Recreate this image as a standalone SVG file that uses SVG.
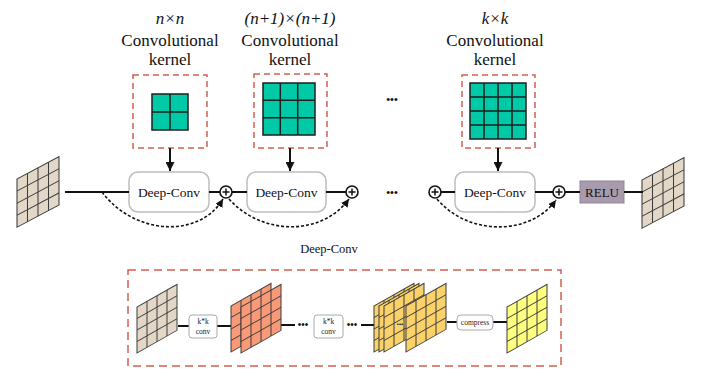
<svg xmlns="http://www.w3.org/2000/svg" width="716" height="388" viewBox="0 0 716 388">
<style>
.t{font-family:"Liberation Serif",serif;fill:#111;text-anchor:middle}
.h{font-size:17px}
.i{font-style:italic}
.kbox{fill:none;stroke:#d45d52;stroke-width:1.5;stroke-dasharray:6 4}
.teal{fill:#00c9a7;stroke:#1e1e1e;stroke-width:1.5}
.dc{fill:#fff;stroke:#bdbdbd;stroke-width:1.5}
.ln{stroke:#111;stroke-width:2;fill:none}
.dot{stroke:#111;stroke-width:1.6;fill:none;stroke-dasharray:3 2}
.plus{fill:#fff;stroke:#111;stroke-width:1.6}
.sb{fill:#fff;stroke:#aaa;stroke-width:1}
.s{font-family:"Liberation Serif",serif;font-size:7.5px;fill:#222;text-anchor:middle}
.d{font-family:"Liberation Sans",sans-serif;fill:#111;text-anchor:middle}
</style>
<defs>
<marker id="ah" viewBox="0 0 10 10" refX="10" refY="5" markerWidth="9" markerHeight="9" markerUnits="userSpaceOnUse" orient="auto">
<path d="M0,0 L10,5 L0,10 z" fill="#111"/>
</marker>
<marker id="ah2" viewBox="0 0 10 10" refX="10" refY="5" markerWidth="8" markerHeight="8" markerUnits="userSpaceOnUse" orient="auto">
<path d="M0,0 L10,5 L0,10 z" fill="#111"/>
</marker>
<g id="fm">
<rect x="0" y="0" width="40" height="46" stroke="#3c3c3c" stroke-width="1"/>
<path d="M10,0V46M20,0V46M30,0V46M0,11.5H40M0,23H40M0,34.5H40" stroke="#3c3c3c" stroke-width="1" fill="none"/>
</g>
<g id="plusc">
<circle cx="0" cy="0" r="6" class="plus"/>
<path d="M-3.5,0H3.5M0,-3.5V3.5" stroke="#111" stroke-width="1.5"/>
</g>
</defs>

<g id="labels">
<text class="t h i" x="170" y="24">n×n</text>
<text class="t h" x="170" y="46">Convolutional</text>
<text class="t h" x="170" y="65">kernel</text>
<text class="t h i" x="290" y="24">(n+1)×(n+1)</text>
<text class="t h" x="290" y="46">Convolutional</text>
<text class="t h" x="290" y="65">kernel</text>
<text class="t h i" x="495" y="24">k×k</text>
<text class="t h" x="495" y="46">Convolutional</text>
<text class="t h" x="495" y="65">kernel</text>
<text class="d" x="392" y="103" font-size="11">•••</text>
<text class="t" x="329" y="253" font-size="12.5">Deep-Conv</text>
</g>

<g id="kernel1">
<rect class="kbox" x="133" y="75" width="74" height="73"/>
<rect class="teal" x="152" y="94" width="36" height="36"/>
<path d="M170,94V130M152,112H188" stroke="#1e1e1e" stroke-width="1.5"/>
</g>
<g id="kernel2">
<rect class="kbox" x="254" y="74" width="73" height="74"/>
<rect class="teal" x="263" y="83" width="52" height="52"/>
<path d="M280.3,83V135M297.7,83V135M263,100.3H315M263,117.7H315" stroke="#1e1e1e" stroke-width="1.5"/>
</g>
<g id="kernel3">
<rect class="kbox" x="462" y="75" width="73" height="73"/>
<rect class="teal" x="470" y="83" width="56" height="56"/>
<path d="M484,83V139M498,83V139M512,83V139M470,97H526M470,111H526M470,125H526" stroke="#1e1e1e" stroke-width="1.5"/>
</g>

<g id="input-map">
<use href="#fm" fill="#e3d8c8" transform="translate(17,179) skewY(-28) scale(1.05)"/>
</g>
<g id="output-map">
<use href="#fm" fill="#e3d8c8" transform="translate(642,180) skewY(-28) scale(1.05)"/>
</g>

<g id="deepconv1">
<rect class="dc" x="129" y="172" width="80" height="40" rx="9"/>
<text class="t" x="169" y="197" font-size="13.5">Deep-Conv</text>
</g>
<g id="deepconv2">
<rect class="dc" x="247" y="172" width="79" height="40" rx="9"/>
<text class="t" x="286.5" y="197" font-size="13.5">Deep-Conv</text>
</g>
<g id="deepconv3">
<rect class="dc" x="455" y="172" width="80" height="40" rx="9"/>
<text class="t" x="495" y="197" font-size="13.5">Deep-Conv</text>
</g>
<g id="relu">
<rect x="580" y="181" width="44" height="22" fill="#a99bae" stroke="#8f8494" stroke-width="1"/>
<text class="t" x="602" y="197" font-size="13">RELU</text>
</g>

<g id="connectors">
<path class="ln" d="M65,192H129M209,192H220M232,192H247M326,192H346M441,192H455M535,192H553M565,192H580M624,192H643"/>
<text class="d" x="392" y="196" font-size="11">•••</text>
<path class="ln" d="M170,148V171" marker-end="url(#ah)"/>
<path class="ln" d="M290,148V171" marker-end="url(#ah)"/>
<path class="ln" d="M498,148V171" marker-end="url(#ah)"/>
<path class="dot" d="M102,192 C135,236 200,238 223,199" marker-end="url(#ah2)"/>
<path class="dot" d="M229,199 C262,236 322,236 349,199" marker-end="url(#ah2)"/>
<path class="dot" d="M437,199 C468,236 530,236 556,200" marker-end="url(#ah2)"/>
<use href="#plusc" x="226" y="192"/>
<use href="#plusc" x="352" y="192"/>
<use href="#plusc" x="435" y="192"/>
<use href="#plusc" x="559" y="192"/>
</g>

<g id="deepconv-detail">
<rect x="128" y="270" width="433" height="96" fill="none" stroke="#d45d52" stroke-width="1.5" stroke-dasharray="8 5"/>
<path class="ln" d="M178,326H189M217,326H231M281,325H295M361,325H375M447,322H457M493,322H507"/>
<use href="#fm" fill="#e3d8c8" transform="translate(137,307) skewY(-29.5)"/>
<rect class="sb" x="189" y="315" width="28" height="23" rx="3"/>
<text class="s" x="203" y="324">k*k</text>
<text class="s" x="203" y="334">conv</text>
<use href="#fm" fill="#f89a78" transform="translate(231,306) skewY(-29.5)"/>
<use href="#fm" fill="#f89a78" transform="translate(241,307) skewY(-29.5)"/>
<text class="d" x="303" y="328" font-size="10">•••</text>
<rect class="sb" x="314" y="315" width="29" height="23" rx="3"/>
<text class="s" x="328.5" y="324">k*k</text>
<text class="s" x="328.5" y="334">conv</text>
<text class="d" x="352" y="328" font-size="10">•••</text>
<use href="#fm" fill="#fbd26a" transform="translate(374,306) skewY(-29.5)"/>
<use href="#fm" fill="#fbd26a" transform="translate(379,306) skewY(-29.5)"/>
<use href="#fm" fill="#fbd26a" transform="translate(384,306) skewY(-29.5)"/>
<text class="d" x="400" y="326" font-size="6">•••</text>
<use href="#fm" fill="#fbd26a" transform="translate(406,306) skewY(-29.5)"/>
<rect class="sb" x="457" y="315" width="36" height="15" rx="4"/>
<text class="s" x="475" y="325" font-size="8">compress</text>
<use href="#fm" fill="#ffff80" transform="translate(507,307) skewY(-29.5)"/>
</g>
</svg>
